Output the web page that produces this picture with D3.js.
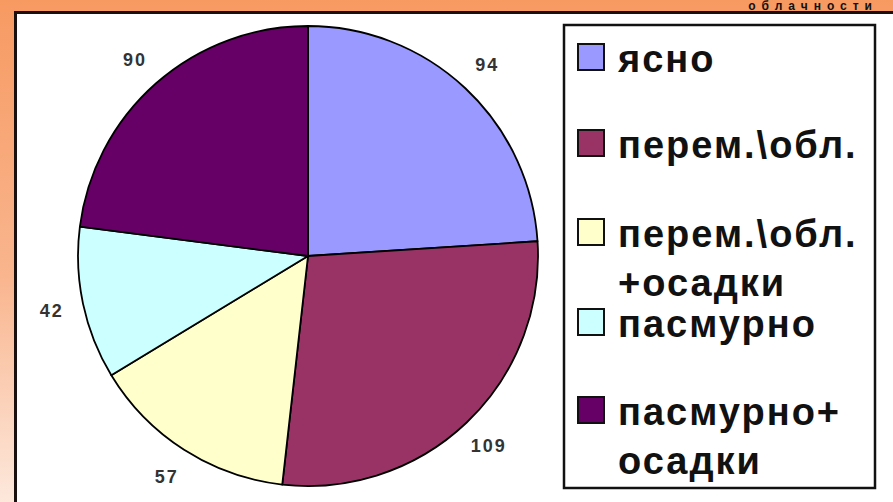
<!DOCTYPE html>
<html><head><meta charset="utf-8">
<script src="https://cdn.jsdelivr.net/npm/d3@7"></script>
<style>html,body{margin:0;padding:0;overflow:hidden;background:#fff}</style>
</head><body>
<script>
const categories = ["ясно", "перем.\\обл.", "перем.\\обл. +осадки", "пасмурно", "пасмурно+ осадки"];
const legendLines = [["ясно"], ["перем.\\обл."], ["перем.\\обл.", "+осадки"], ["пасмурно"], ["пасмурно+", "осадки"]];
const values = [94, 109, 57, 42, 90];
const colors = ["#9999FF", "#993366", "#FFFFCC", "#CCFFFF", "#660066"];
const titleText = "облачности";

const W = 893, H = 502;
const svg = d3.select("body").append("svg").attr("width", W).attr("height", H);
const defs = svg.append("defs");
const g1 = defs.append("linearGradient").attr("id","bg").attr("x1",0).attr("y1",0).attr("x2",0).attr("y2",1);
g1.append("stop").attr("offset","0%").attr("stop-color","#F79A62");
g1.append("stop").attr("offset","55%").attr("stop-color","#F9B58E");
g1.append("stop").attr("offset","100%").attr("stop-color","#FDE8DC");
svg.append("rect").attr("width",W).attr("height",H).attr("fill","url(#bg)");

// title, in the top strip
svg.append("text").attr("x", 878).attr("y", 10).attr("text-anchor","end")
  .attr("font-family","Liberation Sans, Arial, sans-serif").attr("font-weight","bold")
  .attr("font-size", 12).attr("letter-spacing", 6).attr("fill","#111").text(titleText);

// white panel
svg.append("rect").attr("x",15.5).attr("y",12.5).attr("width",W+20).attr("height",H+20)
  .attr("fill","#FFFFFF").attr("stroke","#1a1010").attr("stroke-width",3);

const cx = 308, cy = 256, R = 230;
const pie = d3.pie().sort(null).value(d => d)(values);
const arc = d3.arc().innerRadius(0).outerRadius(R);
const labelArc = d3.arc().innerRadius(262).outerRadius(262);
const pg = svg.append("g").attr("transform", `translate(${cx},${cy})`);
pg.selectAll("path").data(pie).join("path")
  .attr("d", arc).attr("fill", (d,i) => colors[i])
  .attr("stroke", "#000").attr("stroke-width", 1.8).attr("stroke-linejoin","round");
pg.selectAll("text").data(pie).join("text")
  .attr("transform", d => `translate(${labelArc.centroid(d)})`)
  .attr("text-anchor","middle").attr("dy","0.36em")
  .attr("font-family","Liberation Sans, Arial, sans-serif").attr("font-weight","bold")
  .attr("font-size", 18).attr("letter-spacing", 2).attr("fill","#333")
  .text(d => d.data);

// legend
svg.append("rect").attr("x",564).attr("y",25).attr("width",311).attr("height",463)
  .attr("fill","#fff").attr("stroke","#111").attr("stroke-width",2.5);
const baselines = [72, 158, 247, 337, 425];
const lg = svg.append("g");
legendLines.forEach((lines, i) => {
  const b = baselines[i];
  lg.append("rect").attr("x",578).attr("y",b-28).attr("width",26).attr("height",26)
    .attr("fill",colors[i]).attr("stroke","#111").attr("stroke-width",2);
  const t = lg.append("text").attr("x",618).attr("y",b)
    .attr("font-family","Liberation Sans, Arial, sans-serif").attr("font-weight","bold")
    .attr("font-size",38).attr("letter-spacing",2).attr("fill","#111");
  lines.forEach((l, j) => {
    t.append("tspan").attr("x", 618).attr("y", b + j*49).text(l);
  });
});
</script>
</body></html>
